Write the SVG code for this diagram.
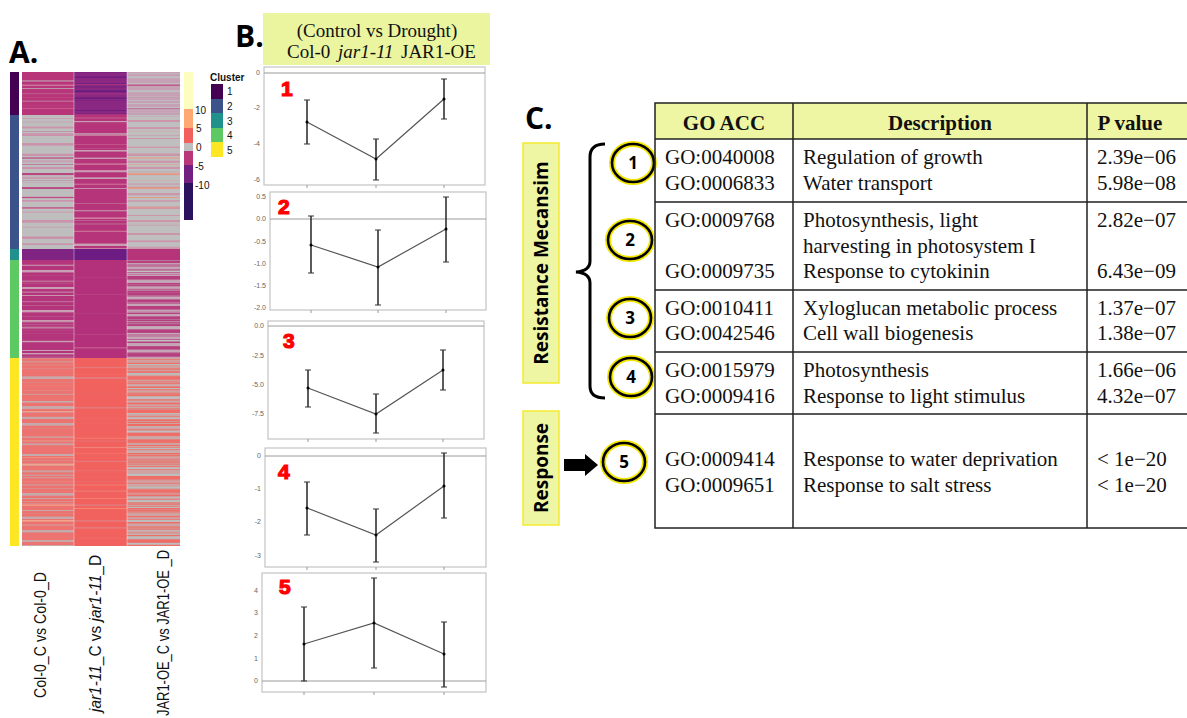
<svg xmlns="http://www.w3.org/2000/svg" width="1187" height="718" viewBox="0 0 1187 718">
<style>
.lbl{font-family:"Open Sans","Liberation Sans",sans-serif;font-weight:bold;fill:#000}
.tick{font-family:"Liberation Sans",Arial,sans-serif;font-size:7px;fill:#666;text-anchor:end}
.frame{fill:#fff;stroke:#c4c4c4;stroke-width:1.2}
.zero{stroke:#9a9a9a;stroke-width:1}
.trend{fill:none;stroke:#555;stroke-width:1.2}
.err{stroke:#333;stroke-width:1.6}
.cap{stroke:#333;stroke-width:1.2}
.rn{font-family:"Liberation Sans",Arial,sans-serif;font-weight:bold;font-size:21px;fill:#f00;stroke:#f00;stroke-width:1.2}
.ser{font-family:"Liberation Serif","Times New Roman",serif;font-size:21px;fill:#111}
.serh{font-family:"Liberation Serif","Times New Roman",serif;font-size:21px;font-weight:bold;fill:#111;text-anchor:middle}
.leg{font-family:"Liberation Sans",Arial,sans-serif;font-size:10px;fill:#111}
.tab{stroke:#222;stroke-width:1.5;fill:none}
.ring{fill:#fff;stroke:#f2e600;stroke-width:6}
.ringb{fill:none;stroke:#000;stroke-width:2.6}
.cn{font-family:"Open Sans","Liberation Sans",sans-serif;font-weight:bold;font-size:17px;text-anchor:middle;fill:#000}
.xl{font-family:"Liberation Sans",Arial,sans-serif;font-size:16px;fill:#111;text-anchor:end}
</style>
<defs>
<filter id="f1" x="0" y="0" width="1" height="1" color-interpolation-filters="sRGB"><feTurbulence type="fractalNoise" baseFrequency="0 0.3" numOctaves="2" seed="3" result="n"/><feColorMatrix in="n" type="matrix" values="0 0 0 0 0 0 0 0 0 0 0 0 0 0 0 9 0 0 0 -4.6" result="a"/><feComposite in="SourceGraphic" in2="a" operator="in"/></filter>
<filter id="f2" x="0" y="0" width="1" height="1" color-interpolation-filters="sRGB"><feTurbulence type="fractalNoise" baseFrequency="0 0.3" numOctaves="2" seed="11" result="n"/><feColorMatrix in="n" type="matrix" values="0 0 0 0 0 0 0 0 0 0 0 0 0 0 0 9 0 0 0 -4.6" result="a"/><feComposite in="SourceGraphic" in2="a" operator="in"/></filter>
<filter id="f3" x="0" y="0" width="1" height="1" color-interpolation-filters="sRGB"><feTurbulence type="fractalNoise" baseFrequency="0 0.3" numOctaves="2" seed="17" result="n"/><feColorMatrix in="n" type="matrix" values="0 0 0 0 0 0 0 0 0 0 0 0 0 0 0 9 0 0 0 -5.5" result="a"/><feComposite in="SourceGraphic" in2="a" operator="in"/></filter>
<filter id="f4" x="0" y="0" width="1" height="1" color-interpolation-filters="sRGB"><feTurbulence type="fractalNoise" baseFrequency="0 0.3" numOctaves="2" seed="29" result="n"/><feColorMatrix in="n" type="matrix" values="0 0 0 0 0 0 0 0 0 0 0 0 0 0 0 9 0 0 0 -5.5" result="a"/><feComposite in="SourceGraphic" in2="a" operator="in"/></filter>
<filter id="f5" x="0" y="0" width="1" height="1" color-interpolation-filters="sRGB"><feTurbulence type="fractalNoise" baseFrequency="0 0.3" numOctaves="2" seed="41" result="n"/><feColorMatrix in="n" type="matrix" values="0 0 0 0 0 0 0 0 0 0 0 0 0 0 0 9 0 0 0 -3.9" result="a"/><feComposite in="SourceGraphic" in2="a" operator="in"/></filter>
<filter id="f8" x="0" y="0" width="1" height="1" color-interpolation-filters="sRGB"><feTurbulence type="fractalNoise" baseFrequency="0 0.3" numOctaves="2" seed="71" result="n"/><feColorMatrix in="n" type="matrix" values="0 0 0 0 0 0 0 0 0 0 0 0 0 0 0 9 0 0 0 -5.3" result="a"/><feComposite in="SourceGraphic" in2="a" operator="in"/></filter>
</defs>
<rect width="1187" height="718" fill="#fff"/>

<!-- Panel A -->
<g id="panelA-label"><text class="lbl" x="9" y="63" font-size="30">A.</text></g>
<g id="cluster-bar">
<rect x="10" y="72" width="9" height="43" fill="#440154"/>
<rect x="10" y="115" width="9" height="134" fill="#3b528b"/>
<rect x="10" y="249" width="9" height="11" fill="#21918c"/>
<rect x="10" y="260" width="9" height="98" fill="#5ec962"/>
<rect x="10" y="358" width="9" height="188" fill="#fde725"/>
</g>
<g id="heatmap">
<rect x="22" y="72" width="52" height="43" fill="#b8357a"/>
<rect x="22" y="72" width="52" height="43" fill="#d67fa3" filter="url(#f3)"/>
<rect x="22" y="72" width="52" height="43" fill="#c0a3b3" filter="url(#f8)"/>
<rect x="74" y="72" width="53" height="43" fill="#8a2882"/>
<rect x="74" y="72" width="53" height="43" fill="#6b1d80" filter="url(#f1)"/>
<rect x="74" y="72" width="53" height="43" fill="#b2357c" filter="url(#f4)"/>
<rect x="127" y="72" width="53" height="43" fill="#c6a0b4"/>
<rect x="127" y="72" width="53" height="43" fill="#bfbfbf" filter="url(#f2)"/>
<rect x="127" y="72" width="53" height="43" fill="#c0467f" filter="url(#f3)"/>
<rect x="22" y="115" width="52" height="134" fill="#bebebe"/>
<rect x="22" y="115" width="52" height="134" fill="#cb93ab" filter="url(#f1)"/>
<rect x="22" y="115" width="52" height="134" fill="#b9417f" filter="url(#f4)"/>
<rect x="74" y="115" width="53" height="134" fill="#b5347a"/>
<rect x="74" y="115" width="53" height="134" fill="#cf7c9e" filter="url(#f3)"/>
<rect x="74" y="115" width="53" height="134" fill="#c7a0b3" filter="url(#f8)"/>
<rect x="127" y="115" width="53" height="134" fill="#bfbfbf"/>
<rect x="127" y="115" width="53" height="134" fill="#cc95aa" filter="url(#f2)"/>
<rect x="127" y="115" width="53" height="134" fill="#e39a86" filter="url(#f4)"/>
<rect x="22" y="249" width="52" height="11" fill="#7f2482"/>
<rect x="74" y="249" width="53" height="11" fill="#6c1c82"/>
<rect x="127" y="249" width="53" height="11" fill="#b5347a"/>
<rect x="22" y="260" width="52" height="98" fill="#b4357b"/>
<rect x="22" y="260" width="52" height="98" fill="#c9a0b3" filter="url(#f1)"/>
<rect x="74" y="260" width="53" height="98" fill="#b3317a"/>
<rect x="74" y="260" width="53" height="98" fill="#c2548b" filter="url(#f4)"/>
<rect x="127" y="260" width="53" height="98" fill="#c4a5b5"/>
<rect x="127" y="260" width="53" height="98" fill="#b73f7f" filter="url(#f5)"/>
<rect x="127" y="260" width="53" height="98" fill="#bfbfbf" filter="url(#f3)"/>
<rect x="22" y="358" width="52" height="188" fill="#ec7370"/>
<rect x="22" y="358" width="52" height="188" fill="#c4aaaa" filter="url(#f1)"/>
<rect x="22" y="358" width="52" height="188" fill="#f2a48c" filter="url(#f4)"/>
<rect x="74" y="358" width="53" height="188" fill="#f1615e"/>
<rect x="74" y="358" width="53" height="188" fill="#f58b74" filter="url(#f3)"/>
<rect x="74" y="358" width="53" height="188" fill="#e4787a" filter="url(#f8)"/>
<rect x="127" y="358" width="53" height="188" fill="#cfa3a3"/>
<rect x="127" y="358" width="53" height="188" fill="#ef6d66" filter="url(#f5)"/>
<rect x="127" y="358" width="53" height="188" fill="#bdbdbd" filter="url(#f2)"/>
<line x1="74" y1="72" x2="74" y2="546" stroke="#fff" stroke-opacity="0.5" stroke-width="0.8"/>
<line x1="127" y1="72" x2="127" y2="546" stroke="#fff" stroke-opacity="0.5" stroke-width="0.8"/>
</g>
<g id="colorscale">
<rect x="184" y="72" width="9" height="37" fill="#fcfdbf"/>
<rect x="184" y="109" width="9" height="19" fill="#fea873"/>
<rect x="184" y="128" width="9" height="15" fill="#f1605d"/>
<rect x="184" y="143" width="9" height="8" fill="#bebebe"/>
<rect x="184" y="151" width="9" height="14" fill="#b73779"/>
<rect x="184" y="165" width="9" height="18" fill="#721f81"/>
<rect x="184" y="183" width="9" height="37" fill="#2c115f"/>
<text class="leg" x="195" y="114">10</text>
<text class="leg" x="196" y="132">5</text>
<text class="leg" x="196" y="151">0</text>
<text class="leg" x="195" y="170">-5</text>
<text class="leg" x="195" y="189">-10</text>
</g>
<g id="cluster-legend">
<text class="leg" x="210" y="81" font-weight="bold" font-size="9.5">Cluster</text>
<rect x="211" y="84" width="12" height="15" fill="#440154"/>
<rect x="211" y="99" width="12" height="14" fill="#3b528b"/>
<rect x="211" y="113" width="12" height="15" fill="#21918c"/>
<rect x="211" y="128" width="12" height="14" fill="#5ec962"/>
<rect x="211" y="142" width="12" height="15" fill="#fde725"/>
<text class="leg" x="227" y="95">1</text>
<text class="leg" x="227" y="110">2</text>
<text class="leg" x="227" y="125">3</text>
<text class="leg" x="227" y="139">4</text>
<text class="leg" x="227" y="154">5</text>
</g>
<g id="column-labels">
<text class="xl" transform="translate(46,572) rotate(-90)" textLength="126" lengthAdjust="spacingAndGlyphs">Col-0_C vs  Col-0_D</text>
<text class="xl" transform="translate(101,555) rotate(-90)" textLength="157" lengthAdjust="spacingAndGlyphs"><tspan font-style="italic">jar1-11</tspan>_C vs <tspan font-style="italic">jar1-11</tspan>_D</text>
<text class="xl" transform="translate(169,550) rotate(-90)" textLength="166" lengthAdjust="spacingAndGlyphs">JAR1-OE_C vs JAR1-OE _D</text>
</g>

<!-- Panel B -->
<g id="panelB-label"><text class="lbl" x="235" y="47" font-size="30">B.</text></g>
<g id="panelB-header">
<rect x="263" y="13" width="227" height="52" fill="#ebf5a0"/>
<text x="377" y="37" text-anchor="middle" font-family="Liberation Serif, Times New Roman, serif" font-size="19" fill="#111">(Control vs Drought)</text>
<text y="58" font-family="Liberation Serif, Times New Roman, serif" font-size="19" fill="#111"><tspan x="287">Col-0</tspan><tspan x="338" font-style="italic">jar1-11</tspan><tspan x="401">JAR1-OE</tspan></text>
</g>
<g id="plot1">
<rect class="frame" x="264" y="67" width="221" height="118"/>
<line class="zero" x1="264" y1="73" x2="485" y2="73"/>
<text class="tick" x="260" y="75">0</text><text class="tick" x="260" y="110">-2</text><text class="tick" x="260" y="146">-4</text><text class="tick" x="260" y="182">-6</text>
<path d="M307,185v3M376,185v3M444,185v3" stroke="#999"/>
<text class="rn" x="281" y="96">1</text>
<polyline class="trend" points="307,122 376,159 444,99"/>
<path class="err" d="M307,100V144M376,139V180M444,79V119"/>
<path class="cap" d="M304,100h6M304,144h6M373,139h6M373,180h6M441,79h6M441,119h6"/>
<circle cx="307" cy="122" r="1.5"/><circle cx="376" cy="159" r="1.5"/><circle cx="444" cy="99" r="1.5"/>
</g>
<g id="plot2">
<rect class="frame" x="270" y="192" width="216" height="118"/>
<line class="zero" x1="270" y1="219" x2="486" y2="219"/>
<text class="tick" x="266" y="199">0.5</text><text class="tick" x="266" y="221">0.0</text><text class="tick" x="266" y="244">-0.5</text><text class="tick" x="266" y="266">-1.0</text><text class="tick" x="266" y="288">-1.5</text><text class="tick" x="266" y="310">-2.0</text>
<path d="M311,310v3M378,310v3M446,310v3" stroke="#999"/>
<text class="rn" x="278" y="214">2</text>
<polyline class="trend" points="311,245 378,267 446,229"/>
<path class="err" d="M311,216V273M378,230V305M446,197V262"/>
<path class="cap" d="M308,216h6M308,273h6M375,230h6M375,305h6M443,197h6M443,262h6"/>
<circle cx="311" cy="245" r="1.5"/><circle cx="378" cy="267" r="1.5"/><circle cx="446" cy="229" r="1.5"/>
</g>
<g id="plot3">
<rect class="frame" x="268" y="321" width="216" height="118"/>
<line class="zero" x1="268" y1="326" x2="484" y2="326"/>
<text class="tick" x="264" y="328">0.0</text><text class="tick" x="264" y="358">-2.5</text><text class="tick" x="264" y="387">-5.0</text><text class="tick" x="264" y="416">-7.5</text>
<path d="M308,439v3M376,439v3M443,439v3" stroke="#999"/>
<text class="rn" x="283" y="348">3</text>
<polyline class="trend" points="308,388 376,414 443,370"/>
<path class="err" d="M308,370V407M376,394V433M443,350V390"/>
<path class="cap" d="M305,370h6M305,407h6M373,394h6M373,433h6M440,350h6M440,390h6"/>
<circle cx="308" cy="388" r="1.5"/><circle cx="376" cy="414" r="1.5"/><circle cx="443" cy="370" r="1.5"/>
</g>
<g id="plot4">
<rect class="frame" x="265" y="448" width="221" height="119"/>
<line class="zero" x1="265" y1="456" x2="486" y2="456"/>
<text class="tick" x="261" y="458">0</text><text class="tick" x="261" y="491">-1</text><text class="tick" x="261" y="524">-2</text><text class="tick" x="261" y="558">-3</text>
<path d="M307,567v3M376,567v3M444,567v3" stroke="#999"/>
<text class="rn" x="278" y="479">4</text>
<polyline class="trend" points="307,508 376,535 444,486"/>
<path class="err" d="M307,482V535M376,509V562M444,453V518"/>
<path class="cap" d="M304,482h6M304,535h6M373,509h6M373,562h6M441,453h6M441,518h6"/>
<circle cx="307" cy="508" r="1.5"/><circle cx="376" cy="535" r="1.5"/><circle cx="444" cy="486" r="1.5"/>
</g>
<g id="plot5">
<rect class="frame" x="262" y="573" width="224" height="119"/>
<line class="zero" x1="262" y1="681" x2="486" y2="681"/>
<text class="tick" x="258" y="593">4</text><text class="tick" x="258" y="615">3</text><text class="tick" x="258" y="638">2</text><text class="tick" x="258" y="661">1</text><text class="tick" x="258" y="683">0</text>
<path d="M304,692v3M374,692v3M444,692v3" stroke="#999"/>
<text class="rn" x="279" y="594">5</text>
<polyline class="trend" points="304,644 374,623 444,654"/>
<path class="err" d="M304,607V681M374,578V668M444,622V687"/>
<path class="cap" d="M301,607h6M301,681h6M371,578h6M371,668h6M441,622h6M441,687h6"/>
<circle cx="304" cy="644" r="1.5"/><circle cx="374" cy="623" r="1.5"/><circle cx="444" cy="654" r="1.5"/>
</g>

<!-- Panel C -->
<g id="panelC-label"><text class="lbl" x="525" y="129" font-size="30">C.</text></g>
<g id="box-resistance">
<rect x="523" y="143" width="36" height="240" fill="#eef6a4" stroke="#f3ea2e" stroke-width="1.5"/>
<text class="lbl" font-size="19" text-anchor="middle" transform="translate(548,263) rotate(-90)">Resistance Mecansim</text>
</g>
<g id="box-response">
<rect x="523" y="411" width="36" height="114" fill="#eef6a4" stroke="#f3ea2e" stroke-width="1.5"/>
<text class="lbl" font-size="19" text-anchor="middle" transform="translate(548,468) rotate(-90)">Response</text>
</g>
<g id="connectors">
<path d="M605,144 Q590,144 590,157 L590,261 Q590,271 576,272 Q590,273 590,283 L590,386 Q590,398 605,398" fill="none" stroke="#000" stroke-width="3"/>
<polygon points="564,459 585,459 585,454 598,465 585,476 585,471 564,471" fill="#000"/>
</g>
<g id="circle1"><ellipse class="ring" cx="633" cy="163" rx="21" ry="19"/><ellipse class="ringb" cx="633" cy="163" rx="21" ry="19"/><text class="cn" x="633" y="169">1</text></g>
<g id="circle2"><ellipse class="ring" cx="630" cy="240" rx="22" ry="19"/><ellipse class="ringb" cx="630" cy="240" rx="22" ry="19"/><text class="cn" x="630" y="246">2</text></g>
<g id="circle3"><ellipse class="ring" cx="630" cy="318" rx="21" ry="19"/><ellipse class="ringb" cx="630" cy="318" rx="21" ry="19"/><text class="cn" x="630" y="324">3</text></g>
<g id="circle4"><ellipse class="ring" cx="631" cy="377" rx="21" ry="19"/><ellipse class="ringb" cx="631" cy="377" rx="21" ry="19"/><text class="cn" x="631" y="383">4</text></g>
<g id="circle5"><ellipse class="ring" cx="624" cy="462" rx="21" ry="19"/><ellipse class="ringb" cx="624" cy="462" rx="21" ry="19"/><text class="cn" x="624" y="468">5</text></g>

<g id="go-table">
<rect x="655" y="103" width="534" height="36" fill="#eef6a4"/>
<rect class="tab" x="655" y="103" width="534" height="425"/>
<path class="tab" d="M655,139H1189M655,202H1189M655,290H1189M655,352H1189M655,414H1189M793,103V528M1087,103V528"/>
<text class="serh" x="724" y="130">GO ACC</text>
<text class="serh" x="940" y="130">Description</text>
<text class="serh" x="1130" y="130">P value</text>
<text class="ser" x="665" y="164">GO:0040008</text><text class="ser" x="803" y="164">Regulation of growth</text><text class="ser" x="1097" y="164">2.39e−06</text>
<text class="ser" x="665" y="190">GO:0006833</text><text class="ser" x="803" y="190">Water transport</text><text class="ser" x="1097" y="190">5.98e−08</text>
<text class="ser" x="665" y="227">GO:0009768</text><text class="ser" x="803" y="227">Photosynthesis, light</text><text class="ser" x="1097" y="227">2.82e−07</text>
<text class="ser" x="803" y="253">harvesting in photosystem I</text>
<text class="ser" x="665" y="278">GO:0009735</text><text class="ser" x="803" y="278">Response to cytokinin</text><text class="ser" x="1097" y="278">6.43e−09</text>
<text class="ser" x="665" y="315">GO:0010411</text><text class="ser" x="803" y="315">Xyloglucan metabolic process</text><text class="ser" x="1097" y="315">1.37e−07</text>
<text class="ser" x="665" y="340">GO:0042546</text><text class="ser" x="803" y="340">Cell wall biogenesis</text><text class="ser" x="1097" y="340">1.38e−07</text>
<text class="ser" x="665" y="377">GO:0015979</text><text class="ser" x="803" y="377">Photosynthesis</text><text class="ser" x="1097" y="377">1.66e−06</text>
<text class="ser" x="665" y="403">GO:0009416</text><text class="ser" x="803" y="403">Response to light stimulus</text><text class="ser" x="1097" y="403">4.32e−07</text>
<text class="ser" x="665" y="466">GO:0009414</text><text class="ser" x="803" y="466">Response to water deprivation</text><text class="ser" x="1097" y="466">&lt; 1e−20</text>
<text class="ser" x="665" y="492">GO:0009651</text><text class="ser" x="803" y="492">Response to salt stress</text><text class="ser" x="1097" y="492">&lt; 1e−20</text>
</g>
</svg>
